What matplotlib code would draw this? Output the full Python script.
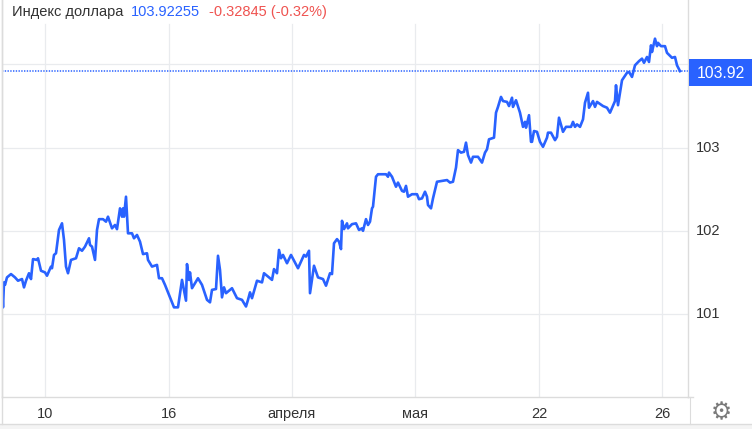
import matplotlib
matplotlib.use("Agg")
import matplotlib.pyplot as plt
from matplotlib.patches import Rectangle
from matplotlib.transforms import ScaledTranslation

W, H = 752, 429
BLUE = "#2962ff"
RED = "#ef5350"
GRID = "#e9ebee"
BORDER = "#dcdcdc"
TEXT = "#333333"

# bar position along the time axis (screen spaced) and index value
bars = [
    2, 3, 4, 5, 7, 11, 15, 18, 22, 24, 26, 29, 31, 33, 37, 38, 41, 45, 47, 51, 52, 54, 56, 59, 62, 64, 66, 68,
    71, 76, 79, 82, 85, 89, 90, 92, 95, 97, 99, 103, 106, 108, 112, 115, 117, 120, 122, 123, 124, 126, 128,
    132, 134, 137, 140, 143, 147, 148, 152, 157, 159, 162, 165, 169, 174, 178, 182, 186, 187, 189, 190, 192,
    198, 202, 207, 210, 212, 216, 218, 220, 222, 224, 226, 232, 237, 242, 246, 248, 250, 252, 257, 262, 264,
    272, 274, 277, 279, 281, 283, 287, 291, 298, 304, 306, 309, 310, 314, 318, 323, 326, 330, 332, 334, 337,
    339, 341, 342, 344, 347, 348, 352, 356, 359, 362, 363, 366, 368, 370, 372, 373, 376, 378, 386, 388, 389,
    392, 396, 398, 402, 404, 406, 408, 412, 417, 419, 422, 425, 427, 428, 431, 433, 437, 442, 447, 450, 453,
    456, 458, 461, 464, 466, 468, 471, 473, 478, 482, 485, 487, 489, 494, 496, 498, 501, 503, 507, 509, 512,
    513, 516, 520, 523, 525, 526, 529, 531, 532, 534, 537, 540, 543, 547, 548, 551, 555, 557, 559, 563, 566,
    571, 573, 575, 577, 580, 583, 585, 588, 589, 593, 595, 597, 603, 607, 610, 615, 616, 618, 622, 627, 629,
    632, 635, 639, 642, 644, 647, 649, 651, 652, 655, 657, 658, 661, 665, 667, 672, 675, 677, 680,
]
prices = [
    101.34, 101.08, 101.38, 101.35, 101.44, 101.48, 101.44, 101.40, 101.42, 101.32, 101.40, 101.49, 101.42,
    101.66, 101.65, 101.67, 101.52, 101.50, 101.46, 101.57, 101.55, 101.71, 101.73, 102.01, 102.09, 101.89,
    101.57, 101.49, 101.65, 101.67, 101.79, 101.76, 101.81, 101.91, 101.83, 101.81, 101.65, 102.01, 102.14,
    102.14, 102.11, 102.17, 102.03, 102.07, 102.02, 102.27, 102.17, 102.27, 102.17, 102.41, 101.97, 101.97,
    101.91, 101.95, 101.87, 101.72, 101.73, 101.65, 101.57, 101.59, 101.43, 101.43, 101.35, 101.23, 101.08,
    101.08, 101.41, 101.16, 101.60, 101.41, 101.50, 101.31, 101.43, 101.35, 101.17, 101.14, 101.29, 101.30,
    101.70, 101.53, 101.20, 101.32, 101.25, 101.31, 101.19, 101.17, 101.09, 101.17, 101.26, 101.19, 101.40,
    101.38, 101.49, 101.41, 101.54, 101.49, 101.77, 101.67, 101.71, 101.61, 101.71, 101.55, 101.71, 101.69,
    101.76, 101.25, 101.58, 101.44, 101.42, 101.34, 101.49, 101.48, 101.85, 101.90, 101.87, 101.78, 102.12,
    102.02, 102.09, 102.03, 102.08, 102.09, 102.01, 102.03, 102.00, 102.14, 102.07, 102.11, 102.27, 102.29,
    102.65, 102.68, 102.68, 102.65, 102.70, 102.65, 102.53, 102.58, 102.48, 102.47, 102.54, 102.41, 102.44,
    102.44, 102.38, 102.39, 102.47, 102.41, 102.31, 102.27, 102.39, 102.59, 102.60, 102.61, 102.58, 102.59,
    102.76, 102.97, 102.94, 102.95, 103.06, 102.91, 102.82, 102.89, 102.89, 102.82, 102.94, 102.98, 103.10,
    103.12, 103.42, 103.49, 103.61, 103.56, 103.55, 103.50, 103.60, 103.49, 103.57, 103.42, 103.25, 103.31,
    103.24, 103.39, 103.07, 103.07, 103.20, 103.19, 103.07, 103.01, 103.12, 103.18, 103.18, 103.09, 103.13,
    103.36, 103.19, 103.25, 103.25, 103.31, 103.25, 103.28, 103.25, 103.34, 103.54, 103.66, 103.48, 103.56,
    103.49, 103.55, 103.50, 103.48, 103.42, 103.56, 103.75, 103.51, 103.81, 103.90, 103.91, 103.85, 103.99,
    104.04, 104.07, 104.02, 104.09, 104.03, 104.23, 104.15, 104.31, 104.22, 104.26, 104.22, 104.22, 104.14,
    104.08, 104.09, 103.99, 103.92,
]
last_price = 103.92255
change = -0.32845
change_pct = -0.32

y_ticks = [101, 102, 103, 104]
x_ticks = [45, 169, 292, 415, 539, 662]
x_labels = ["10", "16", "апреля", "мая", "22", "26"]

plt.rcParams["font.family"] = ["Liberation Sans", "DejaVu Sans"]
plt.rcParams["font.size"] = 10.5

fig = plt.figure(figsize=(W / 100, H / 100), dpi=100, facecolor="white")
left, right, top, bottom = 2, 688, 0, 397
ax = fig.add_axes([left / W, 1 - bottom / H, (right - left) / W, (bottom - top) / H])
ax.set_xlim(left, right)
ax.set_ylim(100.002, 104.775)

ax.spines["top"].set_visible(False)
for spine in ("left", "bottom", "right"):
    ax.spines[spine].set_color(BORDER)
    ax.spines[spine].set_linewidth(1)

ax.yaxis.tick_right()
ax.set_yticks(y_ticks)
ax.set_xticks(x_ticks)
ax.set_xticklabels(x_labels)
ax.tick_params(axis="both", length=0, labelsize=10.5, labelcolor=TEXT)
ax.tick_params(axis="x", pad=7)
ax.tick_params(axis="y", pad=5.5)

# scale labels sit slightly above their grid lines
for label in ax.get_yticklabels():
    label.set_transform(label.get_transform() + ScaledTranslation(0, 1 / 72, fig.dpi_scale_trans))

# grid: the vertical lines stop under the title row
ax.grid(axis="y", color=GRID, lw=0.9, zorder=0)
for x in x_ticks:
    ax.axvline(x, ymax=1 - 24 / 397, color=GRID, lw=0.9, zorder=0)

ax.axhline(last_price, color=BLUE, lw=1.1, ls=(0, (0.9, 0.9)), zorder=2)
ax.plot(bars, prices, color=BLUE, lw=1.9, solid_joinstyle="round", zorder=3)

# price tag over the right scale
fig.add_artist(Rectangle((689 / W, 1 - 86 / H), 63 / W, 27 / H, transform=fig.transFigure, fc=BLUE, ec="none"))
fig.text(721 / W, 1 - 73 / H, f"{last_price:.2f}", color="white", fontsize=11.3, ha="center", va="center", zorder=3)

# title row
y_title = 1 - 12 / H
fig.text(12 / W, y_title, "Индекс доллара", color=TEXT, fontsize=10.5, va="center")
fig.text(131 / W, y_title, f"{last_price:.5f}", color=BLUE, fontsize=10.5, va="center")
fig.text(209 / W, y_title, f"{change:.5f} ({change_pct:.2f}%)", color=RED, fontsize=10.5, va="center")

# bottom strip with the settings button
fig.add_artist(Rectangle((0, 0), 1, 5 / H, transform=fig.transFigure, fc="#f4f4f4", ec="none"))
fig.add_artist(plt.Line2D([0, 1], [5 / H, 5 / H], color=BORDER, lw=1))
fig.add_artist(plt.Line2D([2 / W, 2 / W], [5 / H, 1], color=BORDER, lw=1))
fig.add_artist(plt.Line2D([690 / W, 690 / W], [5 / H, 32 / H], color=BORDER, lw=0.8))
fig.add_artist(plt.Line2D([688 / W, 693 / W], [32 / H, 32 / H], color=BORDER, lw=1))
fig.text(721 / W, 1 - 412 / H, "⚙", color="#7a7a7a", fontsize=17, family="DejaVu Sans", ha="center", va="center")

fig.savefig("out.png", dpi=100)
